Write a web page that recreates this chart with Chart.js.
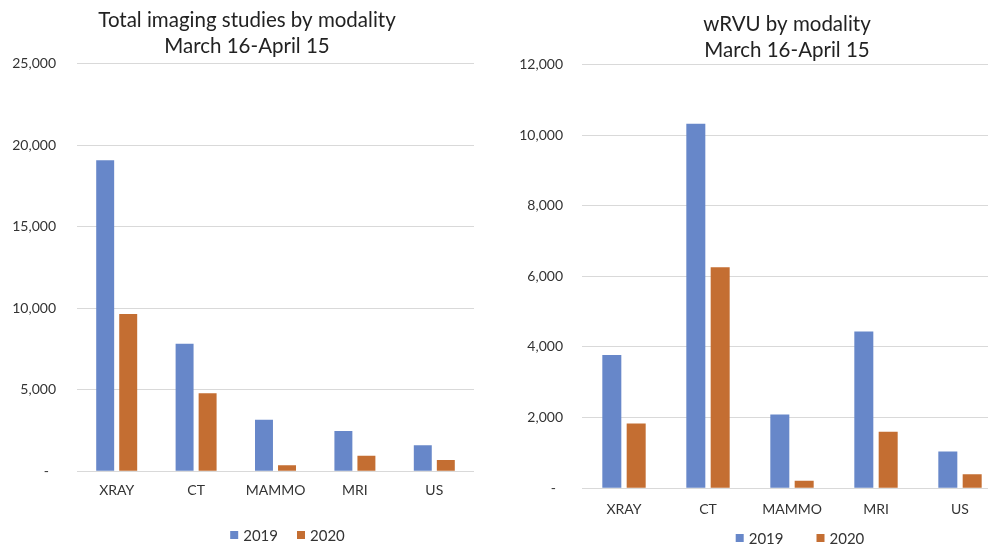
<!DOCTYPE html>
<html>
<head>
<meta charset="utf-8">
<script src="https://cdn.jsdelivr.net/npm/chart.js@4.4.1/dist/chart.umd.min.js"></script>
<style>
  html, body { margin: 0; padding: 0; background: #fff; overflow: hidden; }
  body { width: 988px; height: 546px; position: relative; }
  .box { position: absolute; top: 0; }
</style>
</head>
<body>
<div class="box" style="left:0px;width:494px;height:546px"><canvas id="studies" width="494" height="546"></canvas></div>
<div class="box" style="left:494px;width:520px;height:546px"><canvas id="wrvu" width="520" height="546"></canvas></div>
<script>
// Dados
const modalities = ['XRAY', 'CT', 'MAMMO', 'MRI', 'US'];
const years = ['2019', '2020'];

const studies2019 = [19070, 7820, 3150, 2460, 1590];
const studies2020 = [9640, 4780, 365, 945, 690];
const studiesTicks = [0, 5000, 10000, 15000, 20000, 25000];

const wrvu2019 = [3770, 10320, 2090, 4440, 1040];
const wrvu2020 = [1830, 6260, 210, 1600, 395];
const wrvuTicks = [0, 2000, 4000, 6000, 8000, 10000, 12000];

const blue = '#6787c9';
const orange = '#c46e32';
const FONT = 'Lato, "Open Sans", sans-serif';

// Legenda simples (caixinha + texto) e ajuste do título
const extras = {
  id: 'extras',
  afterLayout(chart, args, opts) {
    if (chart.titleBlock) {
      chart.titleBlock.left += opts.titleDx;
      chart.titleBlock.right += opts.titleDx;
    }
  },
  afterDraw(chart, args, opts) {
    const ctx = chart.ctx;
    const area = chart.chartArea;
    ctx.save();
    ctx.font = '15px ' + FONT;
    ctx.textBaseline = 'middle';
    const items = chart.data.datasets.map(ds => ({
      label: ds.label, color: ds.backgroundColor, w: 13 + ctx.measureText(ds.label).width
    }));
    const total = items.reduce((s, it) => s + it.w, 0) + opts.gap * (items.length - 1);
    let x = (area.left + area.right) / 2 + opts.legendDx - total / 2;
    items.forEach(it => {
      ctx.fillStyle = it.color;
      ctx.fillRect(x, opts.legendY - 4, 8, 8);
      ctx.fillStyle = '#333';
      ctx.fillText(it.label, x + 13, opts.legendY + 1);
      x += it.w + opts.gap;
    });
    ctx.restore();
  }
};

function makeChart(id, title, v2019, v2020, ticks, opt) {
  const ctx = document.getElementById(id).getContext('2d');
  return new Chart(ctx, {
    type: 'bar',
    data: {
      labels: modalities,
      datasets: [
        { label: years[0], data: v2019, backgroundColor: blue },
        { label: years[1], data: v2020, backgroundColor: orange }
      ]
    },
    options: {
      responsive: false,
      animation: false,
      categoryPercentage: 0.58,
      barPercentage: 0.78,
      layout: { padding: opt.padding },
      scales: {
        x: {
          grid: { display: false, drawTicks: false },
          border: { display: false },
          ticks: { color: '#333', font: { family: FONT, size: 14 }, padding: opt.xPad }
        },
        y: {
          min: 0,
          max: ticks[ticks.length - 1],
          afterBuildTicks: scale => { scale.ticks = ticks.map(v => ({ value: v })); },
          afterFit: scale => { scale.width = opt.axisWidth; },
          grid: { color: '#d9d9d9', drawTicks: false },
          border: { display: false },
          ticks: {
            color: '#333',
            font: { family: FONT, size: 14 },
            padding: opt.yPad,
            callback: v => v === 0 ? '-  ' : v.toLocaleString('en-US')
          }
        }
      },
      plugins: {
        legend: { display: false },
        tooltip: { enabled: false },
        title: {
          display: true,
          text: title,
          color: '#222',
          font: { family: FONT, size: 20.5, weight: 'normal', lineHeight: 1.28 },
          padding: opt.titlePad
        },
        extras: opt.extras
      }
    },
    plugins: [extras]
  });
}

makeChart('studies', ['Total imaging studies by modality', 'March 16-April 15'],
  studies2019, studies2020, studiesTicks, {
    padding: { left: 0, right: 20, top: 0, bottom: 36 },
    axisWidth: 77, yPad: 21, xPad: 11,
    titlePad: { top: 7, bottom: 4 },
    extras: { titleDx: 10, legendY: 535, gap: 19, legendDx: 12 }
  });

makeChart('wrvu', ['wRVU by modality', 'March 16-April 15'],
  wrvu2019, wrvu2020, wrvuTicks, {
    padding: { left: 0, right: 12, top: 0, bottom: 15 },
    axisWidth: 88, yPad: 19, xPad: 13,
    titlePad: { top: 11, bottom: 1 },
    extras: { titleDx: 39, legendY: 538, gap: 33, legendDx: 8 }
  });
</script>
</body>
</html>
